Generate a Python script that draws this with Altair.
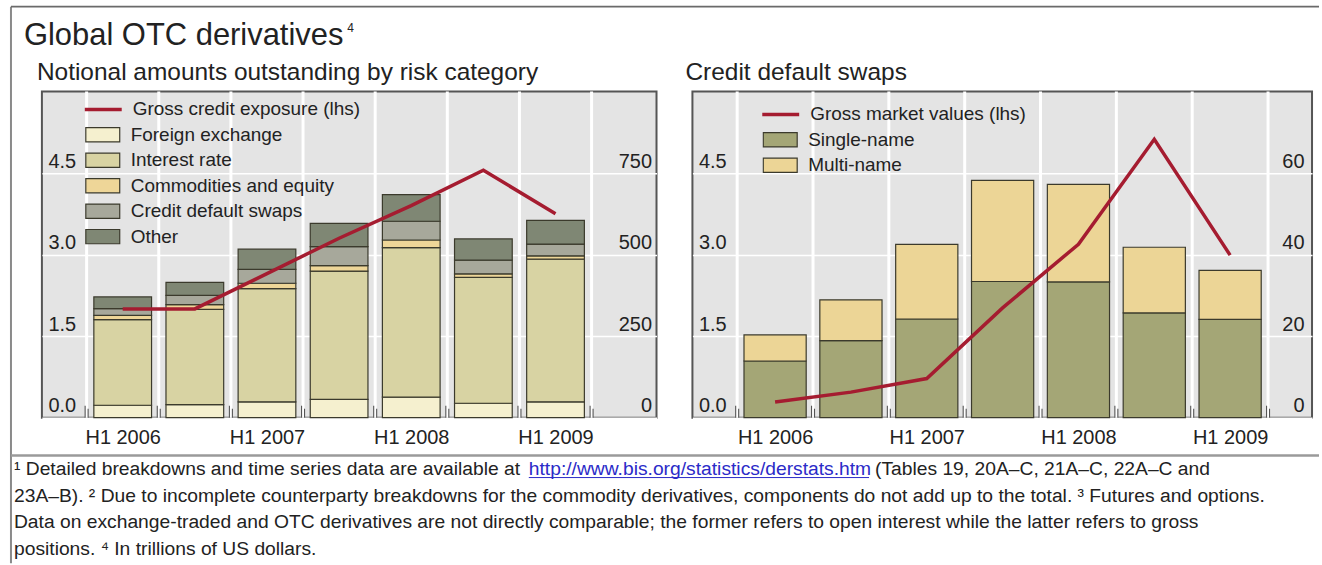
import altair as alt
import pandas as pd

# ---------------- data ----------------
periods = ["H1 2006", "H2 2006", "H1 2007", "H2 2007", "H1 2008", "H2 2008", "H1 2009"]
labelled_periods = [0, 2, 4, 6]

risk_categories = ["Foreign exchange", "Interest rate", "Commodities and equity",
                   "Credit default swaps", "Other"]
foreign_exchange = [38.1, 40.3, 48.6, 56.2, 63.0, 44.2, 48.7]
interest_rate = [262.3, 291.6, 347.3, 393.1, 458.3, 385.9, 437.2]
commodities_equity = [13.2, 14.6, 16.2, 17.0, 23.4, 10.9, 10.3]
credit_default_swaps = [20.4, 28.7, 42.6, 58.2, 57.4, 41.9, 36.0]
other = [36.2, 39.7, 61.7, 71.1, 81.7, 65.0, 72.4]
gross_credit_exposure = [2.0, 2.0, 2.65, 3.3, 3.9, 4.55, 3.75]
gce_name = "Gross credit exposure (lhs)"

cds_categories = ["Single-name", "Multi-name"]
single_name = [13.9, 18.9, 24.2, 33.4, 33.3, 25.7, 24.1]
multi_name = [6.4, 10.0, 18.3, 24.8, 23.9, 16.1, 12.0]
gross_market_values = [0.29, 0.47, 0.72, 2.02, 3.19, 5.12, 2.99]
gmv_name = "Gross market values (lhs)"

lhs_ticks = [0, 1.5, 3.0, 4.5]
left_rhs_ticks = [0, 250, 500, 750]
right_rhs_ticks = [0, 20, 40, 60]

main_title = "Global OTC derivatives"
main_title_note = "4"
left_title = "Notional amounts outstanding by risk category"
right_title = "Credit default swaps"
fn1a = "\u00b9 Detailed breakdowns and time series data are available at "
fn1_url = "http://www.bis.org/statistics/derstats.htm"
fn1b = "(Tables 19, 20A\u2013C, 21A\u2013C, 22A\u2013C and"
fn2 = ("23A\u2013B). \u00b2 Due to incomplete counterparty breakdowns for the commodity "
       "derivatives, components do not add up to the total.  \u00b3 Futures and options.")
fn3 = ("Data on exchange-traded and OTC derivatives are not directly comparable; the former "
       "refers to open interest while the latter refers to gross")
fn4 = "positions.  \u2074 In trillions of US dollars."

# ---------------- style ----------------
FONT = "Liberation Sans"
FOOT_FONT = "Liberation Sans"
FOOT_SIZE = 19.3
TXT = "#222222"
PLOT_H = 327
LW, RW = 616, 621
risk_colors = ["#f5f0cf", "#d8d3a3", "#eed698", "#a7a89b", "#7f8774"]
cds_colors = ["#a4a676", "#ecd596"]
LINE_RED = "#a51c30"
BAR_STROKE = "#3b3a2c"

anchor = pd.DataFrame({"k": [0]})
boundaries = pd.DataFrame({"b": [i - 0.5 for i in range(len(periods) + 1)]})
label_expr = "[" + ",".join("'%s'" % p for p in periods) + "][round(datum.value)]"


def x_axis():
    return alt.Axis(values=labelled_periods, labelExpr=label_expr, grid=False, domain=False,
                    ticks=False, tickSize=0, labelPadding=10, labelFontSize=20, labelFont=FONT,
                    labelColor=TXT, title=None, labelFlush=False, labelOverlap=False)


def y_axis(orient, values, fmt, pad, grid):
    return alt.Axis(orient=orient, values=values, format=fmt, grid=grid, gridColor="white",
                    gridWidth=1.5, domain=False, ticks=False, tickSize=0,
                    labelAlign="left" if orient == "left" else "right",
                    labelPadding=-pad, labelBaseline="alphabetic", labelOffset=-6,
                    labelFontSize=20, labelFont=FONT, labelColor=TXT, title=None,
                    labelFlush=False, labelOverlap=False)


def text_mark(txt, x, y, size, font=FONT, color=TXT):
    return alt.Chart(anchor).mark_text(text=txt, align="left", baseline="alphabetic",
                                       fontSize=size, font=font, color=color).encode(
        x=alt.value(x), y=alt.value(y))


def rule_mark(x, x2, y, y2, color, width):
    return alt.Chart(anchor).mark_rule(color=color, strokeWidth=width).encode(
        x=alt.value(x), x2=alt.value(x2), y=alt.value(y), y2=alt.value(y2))


def panel(cats, series, colors, line_vals, line_name, xdom, half, rhs_dom, rhs_ticks,
          rhs_pad, lhs_pad, legend_x, line_legend_y, extra_layers):
    xs = alt.Scale(domain=xdom, nice=False, zero=False)
    rows = []
    for i, p in enumerate(periods):
        for k, (c, vals) in enumerate(zip(cats, series)):
            rows.append({"idx": i, "period": p, "category": c, "order": k, "value": vals[i]})
    df = pd.DataFrame(rows)
    ldf = pd.DataFrame({"idx": list(range(len(periods))), "v": line_vals, "series": line_name})

    vgrid = alt.Chart(boundaries).mark_rule(color="white", strokeWidth=3).encode(
        x=alt.X("b:Q", scale=xs, axis=x_axis()))

    bars = alt.Chart(df).transform_stack(
        stack="value", groupby=["idx"], as_=["v0", "v1"],
        sort=[alt.SortField("order", order="ascending")]
    ).transform_calculate(
        x0="datum.idx - %f" % half, x1="datum.idx + %f" % half
    ).mark_bar(stroke=BAR_STROKE, strokeWidth=1.2).encode(
        x=alt.X("x0:Q", scale=xs, axis=x_axis()),
        x2=alt.X2("x1:Q"),
        y=alt.Y("v0:Q", scale=alt.Scale(domain=rhs_dom, nice=False),
                axis=y_axis("right", rhs_ticks, "d", rhs_pad, False)),
        y2=alt.Y2("v1:Q"),
        color=alt.Color("category:N", scale=alt.Scale(domain=cats, range=colors),
                        legend=alt.Legend(orient="none", legendX=legend_x + 2,
                                          legendY=line_legend_y + 25.5, title=None,
                                          symbolType="M-1,-0.42L1,-0.42L1,0.42L-1,0.42Z",
                                          symbolSize=1156, symbolStrokeColor=BAR_STROKE,
                                          symbolStrokeWidth=1.2, symbolOpacity=1,
                                          labelFontSize=19, labelFont=FONT, labelColor=TXT,
                                          labelLimit=0, clipHeight=20, rowPadding=5.5,
                                          labelOffset=10, padding=0)),
    )

    line = alt.Chart(ldf).mark_line(strokeWidth=3.5).encode(
        x=alt.X("idx:Q", scale=xs, axis=x_axis()),
        y=alt.Y("v:Q", scale=alt.Scale(domain=[0, 6], nice=False),
                axis=y_axis("left", lhs_ticks, ".1f", lhs_pad, True)),
        stroke=alt.Stroke("series:N", scale=alt.Scale(domain=[line_name], range=[LINE_RED]),
                          legend=alt.Legend(orient="none", legendX=legend_x, legendY=line_legend_y,
                                            title=None, symbolType="M-1,0L1,0", symbolSize=1369,
                                            symbolStrokeWidth=3.5, labelFontSize=19,
                                            labelFont=FONT, labelColor=TXT, labelLimit=0,
                                            clipHeight=20, labelOffset=9, padding=0)),
    )

    tick_a = alt.Chart(boundaries).mark_rule(color="#555555", strokeWidth=1.1, xOffset=-1.5).encode(
        x=alt.X("b:Q", scale=xs, axis=x_axis()), y=alt.value(PLOT_H - 12), y2=alt.value(PLOT_H))
    tick_b = alt.Chart(boundaries).mark_rule(color="#555555", strokeWidth=1.1, xOffset=1.5).encode(
        x=alt.X("b:Q", scale=xs, axis=x_axis()), y=alt.value(PLOT_H - 9), y2=alt.value(PLOT_H))

    return alt.layer(vgrid, bars, line, tick_a, tick_b, *extra_layers).resolve_scale(
        y="independent")


left_extra = [
    rule_mark(-31, -31, -85, 473, "#8a8a8a", 2),
    rule_mark(-31, 1280, -85, -85, "#6a6a6a", 2),
    rule_mark(-31, 1280, 365, 365, "#9a9a9a", 2.5),
    text_mark(main_title, -18, -47, 31),
    text_mark(main_title_note, 306, -60, 12),
    text_mark(left_title, -5, -11, 24.5),
    text_mark(fn1a, -28, 384, FOOT_SIZE, FOOT_FONT),
    text_mark(fn1_url, 488, 384, FOOT_SIZE, FOOT_FONT, "#2b2bc8"),
    rule_mark(488, 829, 387, 387, "#2b2bc8", 1),
    text_mark(fn1b, 835, 384, FOOT_SIZE, FOOT_FONT),
    text_mark(fn2, -28, 411, FOOT_SIZE, FOOT_FONT),
    text_mark(fn3, -28, 438, FOOT_SIZE, FOOT_FONT),
    text_mark(fn4, -28, 465, FOOT_SIZE, FOOT_FONT),
]

left = panel(risk_categories,
             [foreign_exchange, interest_rate, commodities_equity, credit_default_swaps, other],
             risk_colors, gross_credit_exposure, gce_name, [-1.12, 7.40], 0.40,
             [0, 1000], left_rhs_ticks, 5, 6, 41, 8, left_extra).properties(width=LW, height=PLOT_H)

right_extra = [text_mark(right_title, -7, -11, 24.5)]

right = panel(cds_categories, [single_name, multi_name], cds_colors, gross_market_values,
              gmv_name, [-1.09, 7.08], 0.41, [0, 80], right_rhs_ticks, 8, 6, 68, 13,
              right_extra).properties(width=RW, height=PLOT_H)

chart = alt.hconcat(left, right, spacing=36, bounds="flush").resolve_scale(
    color="independent", stroke="independent"
).properties(
    background="white",
    padding={"left": 8, "top": 4, "right": 0, "bottom": 0},
    autosize=alt.AutoSizeParams(type="pad"),
).configure_view(
    fill="#e4e4e4", stroke="#555555", strokeWidth=2
)

chart.save("out.html", embed_options={"renderer": "svg", "actions": False})
